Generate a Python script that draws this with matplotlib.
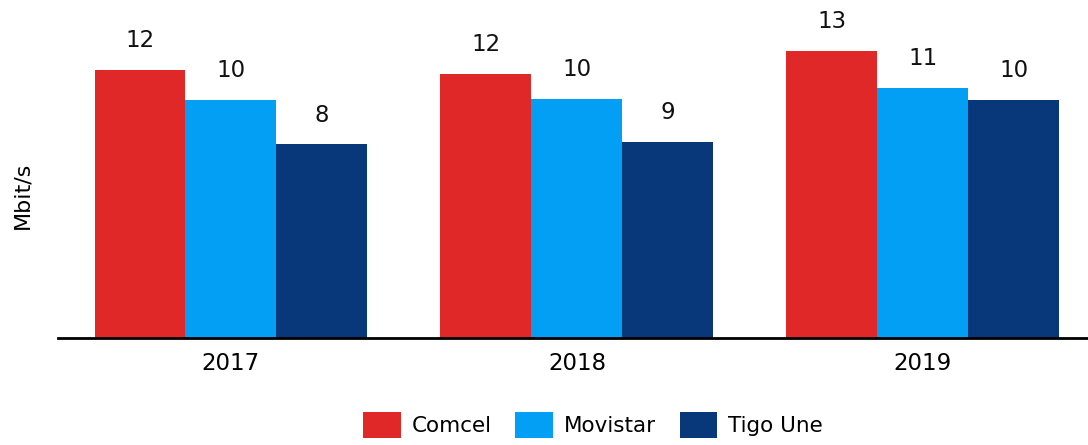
import matplotlib
matplotlib.use("Agg")
import matplotlib.pyplot as plt
import numpy as np

# Данные: средняя скорость по операторам
years = ["2017", "2018", "2019"]
operators = ["Comcel", "Movistar", "Tigo Une"]
comcel = [11.70, 11.53, 12.53]
movistar = [10.39, 10.44, 10.92]
tigo = [8.45, 8.56, 10.39]
colors = ["#E02828", "#039FF5", "#08377A"]

plt.rcParams["font.family"] = ["DejaVu Sans"]

fig = plt.figure(figsize=(10.88, 4.45), dpi=100)
ax = fig.add_axes([58 / 1088, 107 / 445, 1 - 58 / 1088, 338 / 445])

x = np.arange(len(years))
width = 0.263
series = [comcel, movistar, tigo]
for i, (name, vals, col) in enumerate(zip(operators, series, colors)):
    bars = ax.bar(x + (i - 1) * width, vals, width, color=col, label=name)
    for b, v in zip(bars, vals):
        ax.annotate(f"{v:.0f}", (b.get_x() + b.get_width() / 2, v),
                    xytext=(0, 21), textcoords="offset points",
                    ha="center", va="center", fontsize=16.5, color="#111111")

ax.set_xlim(-0.5, 2.477)
ax.set_ylim(0, 338 / 22.9)
ax.set_xticks(x)
ax.set_xticklabels(years, fontsize=16.5)
ax.tick_params(axis="x", length=0, pad=10)
ax.set_yticks([])
for s in ["top", "right", "left"]:
    ax.spines[s].set_visible(False)
ax.spines["bottom"].set_linewidth(2)
ax.spines["bottom"].set_color("black")

fig.text(22 / 1088, 1 - 195 / 445, "Mbit/s", rotation=90,
         ha="center", va="center", fontsize=16)

fig.legend(loc="center", bbox_to_anchor=(593 / 1088, 20 / 445), ncol=3,
           frameon=False, fontsize=15.5, handlelength=1.75, handleheight=1.45,
           handletextpad=0.5, columnspacing=1.1)

plt.savefig("out.png", dpi=100, facecolor="white")
